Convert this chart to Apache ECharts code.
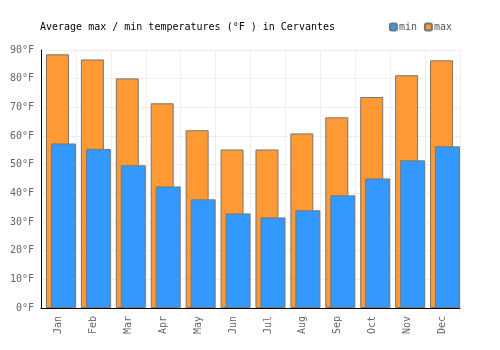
<!DOCTYPE html>
<html>
<head>
<meta charset="utf-8">
<script src="https://cdn.jsdelivr.net/npm/echarts@6/dist/echarts.min.js"></script>
<style>
  html, body { margin: 0; padding: 0; background: #fff; }
  #container { width: 500px; height: 350px; }
</style>
</head>
<body>
<div id="container"></div>
<script>
var months = ['Jan', 'Feb', 'Mar', 'Apr', 'May', 'Jun', 'Jul', 'Aug', 'Sep', 'Oct', 'Nov', 'Dec'];
var maxTemps = [88.5, 86.7, 80.1, 71.4, 62.0, 55.3, 55.3, 60.9, 66.5, 73.6, 81.2, 86.4];
var minTemps = [57.4, 55.5, 49.8, 42.4, 37.9, 33.0, 31.6, 34.1, 39.3, 45.2, 51.5, 56.4];

var dom = document.getElementById('container');
var myChart = echarts.init(dom);
var font = 'DejaVu Sans Mono';

var option = {
  animation: false,
  textStyle: { fontFamily: font },
  title: {
    text: 'Average max / min temperatures (°F ) in Cervantes',
    left: 35,
    top: 17,
    textStyle: { fontFamily: font, fontSize: 10, fontWeight: 'normal', color: '#000' }
  },
  legend: {
    data: ['min', 'max'],
    right: 43,
    top: 17,
    itemWidth: 7,
    itemHeight: 7,
    itemGap: 7,
    textStyle: { fontFamily: font, fontSize: 10, color: '#555', padding: [0, 0, 0, -3] }
  },
  grid: { left: 41, right: 40, top: 50, bottom: 42 },
  xAxis: {
    type: 'category',
    data: months,
    axisLine: { lineStyle: { color: '#000', width: 1 } },
    axisTick: { show: false },
    axisLabel: { rotate: 90, color: '#666', fontFamily: font, fontSize: 10, margin: 8 },
    splitLine: { show: true, lineStyle: { color: '#eee' } }
  },
  yAxis: {
    type: 'value',
    min: 0,
    max: 90,
    interval: 10,
    axisLine: { show: true, lineStyle: { color: '#000', width: 1 } },
    axisTick: { show: false },
    axisLabel: { formatter: '{value}°F', color: '#666', fontFamily: font, fontSize: 10, margin: 7 },
    splitLine: { lineStyle: { color: '#eee' } }
  },
  series: [
    {
      // empty spacer so the pair of bars sits where the reference draws it
      name: 'spacer',
      type: 'bar',
      barWidth: 23,
      data: []
    },
    {
      name: 'max',
      type: 'bar',
      barWidth: 23,
      data: maxTemps,
      itemStyle: { color: '#ff9933', borderColor: '#777', borderWidth: 1, borderRadius: 0 }
    },
    {
      name: 'min',
      type: 'bar',
      barWidth: 25,
      barGap: '-78.26%',
      data: minTemps,
      itemStyle: { color: '#3399ff', borderColor: '#777', borderWidth: 1, borderRadius: 0 }
    }
  ]
};

myChart.setOption(option);
</script>
</body>
</html>
